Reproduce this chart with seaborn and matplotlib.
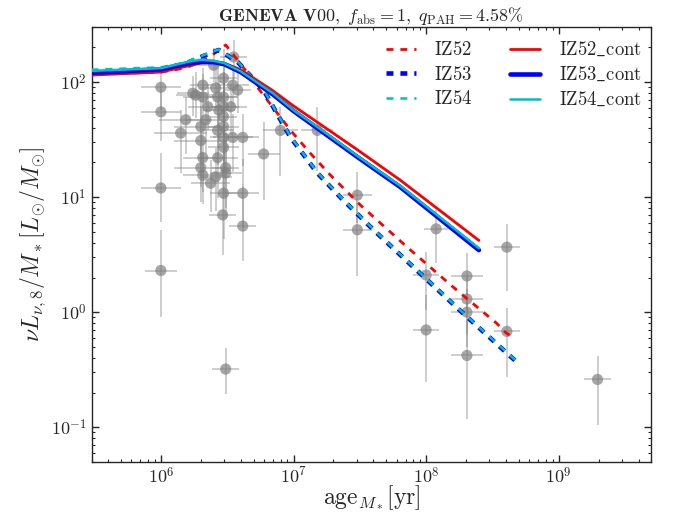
import numpy as np
import pandas as pd
import matplotlib
matplotlib.use("Agg")
import matplotlib.pyplot as plt
import matplotlib.ticker as mticker
import seaborn as sns

# ---------------- model curves ----------------
age_IZ52 = [3e5, 1e6, 1.5e6, 2e6, 2.5e6, 3.08e6, 4.5e6, 5.35e6, 9.5e6, 1.34e7, 1.9e7, 3.2e7, 7.2e7, 1.6e8, 3.4e8, 4.0e8, 4.6e8]
lum_IZ52 = [117, 122, 132, 149, 175, 210, 120, 90, 38, 24, 15.5, 8.5, 3.67, 1.65, 0.80, 0.66, 0.60]

age_IZ53 = [3e5, 1e6, 1.5e6, 2e6, 2.73e6, 3.8e6, 5.95e6, 9.5e6, 1.51e7, 2.25e7, 4e7, 1.02e8, 2.03e8, 4.8e8]
lum_IZ53 = [122, 130, 143, 165, 190, 149, 85, 33, 16.2, 10, 5.2, 1.9, 0.91, 0.37]

age_IZ54 = [3e5, 1e6, 1.5e6, 2e6, 2.73e6, 3.8e6, 5.95e6, 9.5e6, 1.51e7, 2.25e7, 4e7, 1.02e8, 2.03e8, 4.8e8]
lum_IZ54 = [128, 134, 147, 168, 192, 150, 86, 33.5, 16.4, 10.1, 5.25, 1.92, 0.92, 0.375]

age_cont = [3e5, 1e6, 1.6e6, 2e6, 2.5e6, 3e6, 4e6, 7e6, 1e7, 1.5e7, 3e7, 6.4e7, 2.5e8]
lum_IZ52_cont = [115, 122, 138, 146, 148, 146, 128, 84, 62, 45, 26, 14, 4.2]
lum_IZ53_cont = [120, 129, 145, 150, 149, 143, 122, 78, 56, 40, 22.5, 12.2, 3.46]
lum_IZ54_cont = [125, 132, 150, 156, 153, 146, 124, 80, 57, 41, 23, 12.5, 3.6]

# ---------------- observed points ----------------
age_obs = [1.0e6, 1.0e6, 1.0e6, 1.0e6, 1.54e6, 1.41e6, 1.74e6, 2.07e6, 2.07e6, 2.0e6,
           2.0e6, 2.07e6, 2.0e6, 2.07e6, 2.18e6, 2.26e6, 2.37e6, 2.59e6, 2.68e6, 2.73e6,
           2.68e6, 2.68e6, 2.59e6, 2.97e6, 2.97e6, 2.97e6, 2.97e6, 2.97e6, 2.97e6, 2.97e6,
           3.08e6, 3.08e6, 2.97e6, 2.92e6, 3.48e6, 3.36e6, 3.48e6, 3.79e6, 3.54e6, 4.14e6,
           4.14e6, 4.14e6, 5.95e6, 7.97e6, 1.51e7, 3.08e6, 2.5e6, 1.83e6, 3.03e7, 3.03e7,
           1.19e8, 1.0e8, 1.0e8, 2.03e8, 2.03e8, 2.03e8, 2.03e8, 4.06e8, 4.06e8, 1.96e9]
lum_obs = [90, 55, 12, 2.3, 47, 36, 80, 94, 74, 41,
           31, 22, 18, 15.5, 47, 61, 13.2, 89, 74, 57,
           38, 22, 15, 108, 74, 61, 50, 41, 33, 27,
           18, 16.2, 10.8, 7.0, 94, 61, 33, 85, 165, 33,
           10.8, 5.6, 23.7, 38, 38, 0.32, 140, 77, 10.4, 5.2,
           5.3, 2.1, 0.70, 2.06, 1.30, 1.0, 0.42, 3.67, 0.68, 0.26]
age_err_dex = [0.15, 0.15, 0.15, 0.12, 0.2, 0.2, 0.12, 0.1, 0.15, 0.2,
               0.2, 0.15, 0.2, 0.15, 0.15, 0.15, 0.15, 0.12, 0.15, 0.12,
               0.12, 0.15, 0.12, 0.1, 0.1, 0.12, 0.1, 0.12, 0.1, 0.12,
               0.1, 0.12, 0.1, 0.1, 0.12, 0.12, 0.15, 0.1, 0.1, 0.12,
               0.12, 0.1, 0.12, 0.13, 0.12, 0.1, 0.12, 0.15, 0.11, 0.11,
               0.09, 0.1, 0.1, 0.12, 0.12, 0.12, 0.12, 0.1, 0.1, 0.1]
lum_err_lo_dex = [0.2, 0.25, 0.3, 0.4, 0.3, 0.35, 0.2, 0.15, 0.2, 0.3,
                  0.4, 0.3, 0.3, 0.25, 0.3, 0.2, 0.25, 0.2, 0.25, 0.3,
                  0.3, 0.35, 0.3, 0.2, 0.35, 0.3, 0.4, 0.3, 0.3, 0.4,
                  0.35, 0.4, 0.4, 0.35, 0.2, 0.25, 0.3, 0.2, 0.2, 0.25,
                  0.3, 0.3, 0.4, 0.4, 0.35, 0.22, 0.15, 0.2, 0.24, 0.4,
                  0.3, 0.3, 0.45, 0.3, 0.3, 0.3, 0.55, 0.38, 0.4, 0.4]
lum_err_hi_dex = [0.15, 0.2, 0.3, 0.35, 0.2, 0.2, 0.15, 0.15, 0.2, 0.3,
                  0.3, 0.3, 0.2, 0.2, 0.2, 0.2, 0.2, 0.2, 0.3, 0.25,
                  0.3, 0.3, 0.25, 0.25, 0.3, 0.3, 0.35, 0.4, 0.3, 0.3,
                  0.3, 0.35, 0.4, 0.4, 0.15, 0.2, 0.2, 0.15, 0.15, 0.2,
                  0.3, 0.35, 0.28, 0.2, 0.2, 0.18, 0.15, 0.2, 0.2, 0.25,
                  0.16, 0.2, 0.3, 0.2, 0.2, 0.2, 0.3, 0.2, 0.2, 0.2]

title_text = r"$\mathbf{GENEVA\ V00,}\ f_{\rm abs}=1,\ q_{\rm PAH}=4.58\%$"
xlabel_text = r"$\mathrm{age}_{M_*}[\mathrm{yr}]$"
ylabel_text = r"$\nu L_{\nu,8}/M_*[L_{\odot}/M_{\odot}]$"

sns.set_style("ticks")
plt.rcParams.update({
    "font.family": ["DejaVu Serif"],
    "mathtext.fontset": "cm",
    "lines.scale_dashes": False,
    "axes.linewidth": 1.0,
})

fig = plt.figure(figsize=(6.73, 5.12), dpi=100)
ax = fig.add_axes([0.136, 0.098, 0.832, 0.849])
ax.set_xscale("log")
ax.set_yscale("log")

obs = pd.DataFrame({"age": age_obs, "lum": lum_obs})
a = np.array(age_obs); l = np.array(lum_obs)
xe = np.array(age_err_dex)
xerr = [a - a / 10**xe, a * 10**xe - a]
yerr = [l - l / 10**np.array(lum_err_lo_dex), l * 10**np.array(lum_err_hi_dex) - l]
ax.errorbar(a, l, xerr=xerr, yerr=yerr, fmt="none", ecolor="gray", alpha=0.5,
            elinewidth=1.1, capsize=0, zorder=1)
sns.scatterplot(data=obs, x="age", y="lum", ax=ax, color="gray", alpha=0.7,
                s=65, edgecolor="none", zorder=2, legend=False)

dash = (0, (5.0, 5.0))
sns.lineplot(x=age_IZ52, y=lum_IZ52, ax=ax, color="red", lw=2, ls=dash,
             sort=False, estimator=None, label=r"$\mathrm{IZ52}$", zorder=3)
sns.lineplot(x=age_IZ53, y=lum_IZ53, ax=ax, color="blue", lw=3.3, ls=dash,
             sort=False, estimator=None, label=r"$\mathrm{IZ53}$", zorder=3)
sns.lineplot(x=age_IZ54, y=lum_IZ54, ax=ax, color="c", lw=1.8, ls=dash,
             sort=False, estimator=None, label=r"$\mathrm{IZ54}$", zorder=3)
sns.lineplot(x=age_cont, y=lum_IZ52_cont, ax=ax, color="red", lw=2,
             sort=False, estimator=None, label=r"$\mathrm{IZ52\_cont}$", zorder=3)
sns.lineplot(x=age_cont, y=lum_IZ53_cont, ax=ax, color="blue", lw=3.3,
             sort=False, estimator=None, label=r"$\mathrm{IZ53\_cont}$", zorder=3)
sns.lineplot(x=age_cont, y=lum_IZ54_cont, ax=ax, color="c", lw=1.8,
             sort=False, estimator=None, label=r"$\mathrm{IZ54\_cont}$", zorder=3)

ax.set_xlim(3e5, 5e9)
ax.set_ylim(0.05, 300)

fmt = mticker.FuncFormatter(lambda v, p: r"$10^{%d}$" % int(round(np.log10(v))))
ax.xaxis.set_major_locator(mticker.LogLocator(base=10, numticks=20))
ax.yaxis.set_major_locator(mticker.LogLocator(base=10, numticks=20))
ax.xaxis.set_major_formatter(fmt)
ax.yaxis.set_major_formatter(fmt)
ax.xaxis.set_minor_formatter(mticker.NullFormatter())
ax.yaxis.set_minor_formatter(mticker.NullFormatter())
ax.tick_params(which="both", direction="in", top=True, right=True, labelsize=13)
ax.tick_params(which="major", length=5, width=1)
ax.tick_params(which="minor", length=2.5, width=0.8)

ax.set_title(title_text, fontsize=13, pad=4)
ax.set_xlabel(xlabel_text, fontsize=17, labelpad=-3)
ax.set_ylabel(ylabel_text, fontsize=17, labelpad=2)

ax.legend(ncol=2, loc="upper right", bbox_to_anchor=(1.0, 0.99), frameon=False,
          fontsize=13.5, handlelength=1.6, handletextpad=1.0, columnspacing=2.0,
          labelspacing=0.35, borderaxespad=0.1)

fig.savefig("out.png", dpi=100)
